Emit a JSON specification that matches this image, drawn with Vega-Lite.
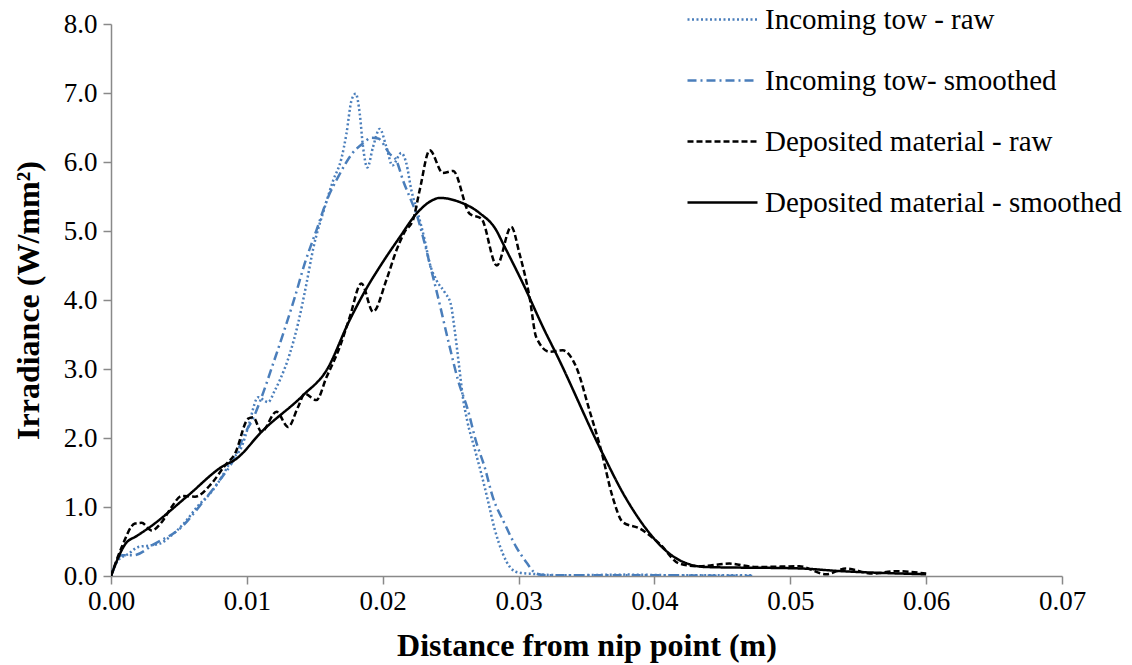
{
  "$schema": "https://vega.github.io/schema/vega-lite/v6.json",
  "width": 951,
  "height": 552,
  "autosize": {"type": "none"},
  "padding": {"left": 111, "top": 24, "right": 70, "bottom": 89},
  "background": "white",
  "config": {
    "font": "Liberation Serif",
    "view": {"stroke": null},
    "axis": {
      "grid": false,
      "domainColor": "#898989",
      "domainWidth": 1.5,
      "tickColor": "#898989",
      "tickWidth": 1.5,
      "tickSize": 8,
      "labelColor": "black",
      "labelFont": "Liberation Serif",
      "labelFontSize": 27,
      "labelFlush": false,
      "labelOverlap": false,
      "titleColor": "black",
      "titleFont": "Liberation Serif",
      "titleFontSize": 32,
      "titleFontWeight": "bold"
    },
    "legend": {
      "labelFont": "Liberation Serif",
      "labelFontSize": 29,
      "labelColor": "black",
      "labelLimit": 0
    }
  },
  "datasets": {
    "irradiance": [
      {"series": "Incoming tow - raw", "x": 0, "y": 0},
      {"series": "Incoming tow - raw", "x": 0.00054, "y": 0.23},
      {"series": "Incoming tow - raw", "x": 0.00127, "y": 0.32},
      {"series": "Incoming tow - raw", "x": 0.00201, "y": 0.42},
      {"series": "Incoming tow - raw", "x": 0.00274, "y": 0.44},
      {"series": "Incoming tow - raw", "x": 0.0036, "y": 0.47},
      {"series": "Incoming tow - raw", "x": 0.00446, "y": 0.59},
      {"series": "Incoming tow - raw", "x": 0.00544, "y": 0.78},
      {"series": "Incoming tow - raw", "x": 0.00642, "y": 1.02},
      {"series": "Incoming tow - raw", "x": 0.0074, "y": 1.22},
      {"series": "Incoming tow - raw", "x": 0.00814, "y": 1.43},
      {"series": "Incoming tow - raw", "x": 0.00887, "y": 1.68},
      {"series": "Incoming tow - raw", "x": 0.00961, "y": 1.87},
      {"series": "Incoming tow - raw", "x": 0.0101, "y": 2.16},
      {"series": "Incoming tow - raw", "x": 0.01083, "y": 2.59},
      {"series": "Incoming tow - raw", "x": 0.01157, "y": 2.52},
      {"series": "Incoming tow - raw", "x": 0.01206, "y": 2.69},
      {"series": "Incoming tow - raw", "x": 0.01243, "y": 2.84},
      {"series": "Incoming tow - raw", "x": 0.01316, "y": 3.22},
      {"series": "Incoming tow - raw", "x": 0.01377, "y": 3.66},
      {"series": "Incoming tow - raw", "x": 0.01439, "y": 4.24},
      {"series": "Incoming tow - raw", "x": 0.01488, "y": 4.74},
      {"series": "Incoming tow - raw", "x": 0.01574, "y": 5.35},
      {"series": "Incoming tow - raw", "x": 0.01635, "y": 5.73},
      {"series": "Incoming tow - raw", "x": 0.01696, "y": 6.05},
      {"series": "Incoming tow - raw", "x": 0.01733, "y": 6.41},
      {"series": "Incoming tow - raw", "x": 0.0177, "y": 6.89},
      {"series": "Incoming tow - raw", "x": 0.01801, "y": 6.99},
      {"series": "Incoming tow - raw", "x": 0.01831, "y": 6.7},
      {"series": "Incoming tow - raw", "x": 0.01855, "y": 6.22},
      {"series": "Incoming tow - raw", "x": 0.01887, "y": 5.92},
      {"series": "Incoming tow - raw", "x": 0.01929, "y": 6.22},
      {"series": "Incoming tow - raw", "x": 0.01978, "y": 6.48},
      {"series": "Incoming tow - raw", "x": 0.02027, "y": 6.22},
      {"series": "Incoming tow - raw", "x": 0.02071, "y": 5.95},
      {"series": "Incoming tow - raw", "x": 0.02137, "y": 6.13},
      {"series": "Incoming tow - raw", "x": 0.02174, "y": 5.98},
      {"series": "Incoming tow - raw", "x": 0.02211, "y": 5.59},
      {"series": "Incoming tow - raw", "x": 0.0226, "y": 5.25},
      {"series": "Incoming tow - raw", "x": 0.02309, "y": 4.87},
      {"series": "Incoming tow - raw", "x": 0.02346, "y": 4.53},
      {"series": "Incoming tow - raw", "x": 0.02395, "y": 4.29},
      {"series": "Incoming tow - raw", "x": 0.0246, "y": 4.1},
      {"series": "Incoming tow - raw", "x": 0.025, "y": 3.95},
      {"series": "Incoming tow - raw", "x": 0.0253, "y": 3.56},
      {"series": "Incoming tow - raw", "x": 0.02566, "y": 2.98},
      {"series": "Incoming tow - raw", "x": 0.0259, "y": 2.59},
      {"series": "Incoming tow - raw", "x": 0.02622, "y": 2.25},
      {"series": "Incoming tow - raw", "x": 0.0268, "y": 1.82},
      {"series": "Incoming tow - raw", "x": 0.02726, "y": 1.48},
      {"series": "Incoming tow - raw", "x": 0.0277, "y": 1.13},
      {"series": "Incoming tow - raw", "x": 0.02824, "y": 0.68},
      {"series": "Incoming tow - raw", "x": 0.02885, "y": 0.32},
      {"series": "Incoming tow - raw", "x": 0.0294, "y": 0.12},
      {"series": "Incoming tow - raw", "x": 0.03, "y": 0.05},
      {"series": "Incoming tow - raw", "x": 0.0311, "y": 0.03},
      {"series": "Incoming tow - raw", "x": 0.0335, "y": 0.01},
      {"series": "Incoming tow - raw", "x": 0.038, "y": 0.02},
      {"series": "Incoming tow - raw", "x": 0.042, "y": 0.01},
      {"series": "Incoming tow - raw", "x": 0.0472, "y": 0.01},

      {"series": "Incoming tow- smoothed", "x": 0, "y": 0},
      {"series": "Incoming tow- smoothed", "x": 0.00079, "y": 0.3},
      {"series": "Incoming tow- smoothed", "x": 0.00164, "y": 0.3},
      {"series": "Incoming tow- smoothed", "x": 0.00324, "y": 0.47},
      {"series": "Incoming tow- smoothed", "x": 0.0052, "y": 0.71},
      {"series": "Incoming tow- smoothed", "x": 0.00667, "y": 1.05},
      {"series": "Incoming tow- smoothed", "x": 0.00789, "y": 1.36},
      {"series": "Incoming tow- smoothed", "x": 0.00912, "y": 1.72},
      {"series": "Incoming tow- smoothed", "x": 0.00985, "y": 2.06},
      {"series": "Incoming tow- smoothed", "x": 0.0105, "y": 2.3},
      {"series": "Incoming tow- smoothed", "x": 0.01108, "y": 2.59},
      {"series": "Incoming tow- smoothed", "x": 0.01194, "y": 3.08},
      {"series": "Incoming tow- smoothed", "x": 0.01267, "y": 3.51},
      {"series": "Incoming tow- smoothed", "x": 0.01353, "y": 4.04},
      {"series": "Incoming tow- smoothed", "x": 0.01426, "y": 4.53},
      {"series": "Incoming tow- smoothed", "x": 0.01512, "y": 5.01},
      {"series": "Incoming tow- smoothed", "x": 0.01598, "y": 5.49},
      {"series": "Incoming tow- smoothed", "x": 0.01671, "y": 5.78},
      {"series": "Incoming tow- smoothed", "x": 0.01782, "y": 6.14},
      {"series": "Incoming tow- smoothed", "x": 0.01855, "y": 6.27},
      {"series": "Incoming tow- smoothed", "x": 0.01917, "y": 6.35},
      {"series": "Incoming tow- smoothed", "x": 0.01966, "y": 6.34},
      {"series": "Incoming tow- smoothed", "x": 0.02051, "y": 6.12},
      {"series": "Incoming tow- smoothed", "x": 0.02101, "y": 6.02},
      {"series": "Incoming tow- smoothed", "x": 0.0215, "y": 5.73},
      {"series": "Incoming tow- smoothed", "x": 0.02199, "y": 5.49},
      {"series": "Incoming tow- smoothed", "x": 0.02248, "y": 5.25},
      {"series": "Incoming tow- smoothed", "x": 0.02309, "y": 4.82},
      {"series": "Incoming tow- smoothed", "x": 0.02358, "y": 4.43},
      {"series": "Incoming tow- smoothed", "x": 0.02395, "y": 4.14},
      {"series": "Incoming tow- smoothed", "x": 0.02493, "y": 3.32},
      {"series": "Incoming tow- smoothed", "x": 0.02554, "y": 2.84},
      {"series": "Incoming tow- smoothed", "x": 0.02628, "y": 2.4},
      {"series": "Incoming tow- smoothed", "x": 0.02684, "y": 1.97},
      {"series": "Incoming tow- smoothed", "x": 0.0275, "y": 1.58},
      {"series": "Incoming tow- smoothed", "x": 0.02811, "y": 1.14},
      {"series": "Incoming tow- smoothed", "x": 0.02897, "y": 0.76},
      {"series": "Incoming tow- smoothed", "x": 0.02983, "y": 0.42},
      {"series": "Incoming tow- smoothed", "x": 0.03057, "y": 0.2},
      {"series": "Incoming tow- smoothed", "x": 0.0313, "y": 0.035},
      {"series": "Incoming tow- smoothed", "x": 0.032, "y": 0.01},
      {"series": "Incoming tow- smoothed", "x": 0.04, "y": 0.01},
      {"series": "Incoming tow- smoothed", "x": 0.0472, "y": 0.0},

      {"series": "Deposited material - raw", "x": 0, "y": 0},
      {"series": "Deposited material - raw", "x": 0.00079, "y": 0.42},
      {"series": "Deposited material - raw", "x": 0.00176, "y": 0.76},
      {"series": "Deposited material - raw", "x": 0.00226, "y": 0.77},
      {"series": "Deposited material - raw", "x": 0.003, "y": 0.66},
      {"series": "Deposited material - raw", "x": 0.00373, "y": 0.78},
      {"series": "Deposited material - raw", "x": 0.00446, "y": 1.0},
      {"series": "Deposited material - raw", "x": 0.0052, "y": 1.16},
      {"series": "Deposited material - raw", "x": 0.00618, "y": 1.15},
      {"series": "Deposited material - raw", "x": 0.0074, "y": 1.34},
      {"series": "Deposited material - raw", "x": 0.00838, "y": 1.6},
      {"series": "Deposited material - raw", "x": 0.00912, "y": 1.77},
      {"series": "Deposited material - raw", "x": 0.0101, "y": 2.28},
      {"series": "Deposited material - raw", "x": 0.01046, "y": 2.3},
      {"series": "Deposited material - raw", "x": 0.01108, "y": 2.09},
      {"series": "Deposited material - raw", "x": 0.01218, "y": 2.38},
      {"series": "Deposited material - raw", "x": 0.01304, "y": 2.16},
      {"series": "Deposited material - raw", "x": 0.01377, "y": 2.45},
      {"series": "Deposited material - raw", "x": 0.01426, "y": 2.64},
      {"series": "Deposited material - raw", "x": 0.01512, "y": 2.55},
      {"series": "Deposited material - raw", "x": 0.01586, "y": 2.88},
      {"series": "Deposited material - raw", "x": 0.01684, "y": 3.32},
      {"series": "Deposited material - raw", "x": 0.01757, "y": 3.75},
      {"series": "Deposited material - raw", "x": 0.01843, "y": 4.24},
      {"series": "Deposited material - raw", "x": 0.01929, "y": 3.83},
      {"series": "Deposited material - raw", "x": 0.02027, "y": 4.29},
      {"series": "Deposited material - raw", "x": 0.02101, "y": 4.72},
      {"series": "Deposited material - raw", "x": 0.02162, "y": 4.99},
      {"series": "Deposited material - raw", "x": 0.02223, "y": 5.16},
      {"series": "Deposited material - raw", "x": 0.02272, "y": 5.59},
      {"series": "Deposited material - raw", "x": 0.02346, "y": 6.17},
      {"series": "Deposited material - raw", "x": 0.02443, "y": 5.84},
      {"series": "Deposited material - raw", "x": 0.02518, "y": 5.87},
      {"series": "Deposited material - raw", "x": 0.0264, "y": 5.25},
      {"series": "Deposited material - raw", "x": 0.02726, "y": 5.18},
      {"series": "Deposited material - raw", "x": 0.0284, "y": 4.5},
      {"series": "Deposited material - raw", "x": 0.02946, "y": 5.06},
      {"series": "Deposited material - raw", "x": 0.03007, "y": 4.67},
      {"series": "Deposited material - raw", "x": 0.03081, "y": 4.04},
      {"series": "Deposited material - raw", "x": 0.0313, "y": 3.46},
      {"series": "Deposited material - raw", "x": 0.03228, "y": 3.25},
      {"series": "Deposited material - raw", "x": 0.03326, "y": 3.27},
      {"series": "Deposited material - raw", "x": 0.03424, "y": 3.03},
      {"series": "Deposited material - raw", "x": 0.03522, "y": 2.4},
      {"series": "Deposited material - raw", "x": 0.03608, "y": 1.82},
      {"series": "Deposited material - raw", "x": 0.03693, "y": 1.14},
      {"series": "Deposited material - raw", "x": 0.03767, "y": 0.78},
      {"series": "Deposited material - raw", "x": 0.0389, "y": 0.69},
      {"series": "Deposited material - raw", "x": 0.04037, "y": 0.47},
      {"series": "Deposited material - raw", "x": 0.04184, "y": 0.18},
      {"series": "Deposited material - raw", "x": 0.04331, "y": 0.14},
      {"series": "Deposited material - raw", "x": 0.04551, "y": 0.18},
      {"series": "Deposited material - raw", "x": 0.04748, "y": 0.13},
      {"series": "Deposited material - raw", "x": 0.05066, "y": 0.14},
      {"series": "Deposited material - raw", "x": 0.05263, "y": 0.025},
      {"series": "Deposited material - raw", "x": 0.0541, "y": 0.107},
      {"series": "Deposited material - raw", "x": 0.05605, "y": 0.035},
      {"series": "Deposited material - raw", "x": 0.05777, "y": 0.07},
      {"series": "Deposited material - raw", "x": 0.06, "y": 0.035},

      {"series": "Deposited material - smoothed", "x": 0, "y": 0},
      {"series": "Deposited material - smoothed", "x": 0.00108, "y": 0.47},
      {"series": "Deposited material - smoothed", "x": 0.0019, "y": 0.58},
      {"series": "Deposited material - smoothed", "x": 0.00287, "y": 0.71},
      {"series": "Deposited material - smoothed", "x": 0.00569, "y": 1.17},
      {"series": "Deposited material - smoothed", "x": 0.00814, "y": 1.58},
      {"series": "Deposited material - smoothed", "x": 0.00924, "y": 1.7},
      {"series": "Deposited material - smoothed", "x": 0.01108, "y": 2.09},
      {"series": "Deposited material - smoothed", "x": 0.01414, "y": 2.62},
      {"series": "Deposited material - smoothed", "x": 0.01586, "y": 2.98},
      {"series": "Deposited material - smoothed", "x": 0.01757, "y": 3.71},
      {"series": "Deposited material - smoothed", "x": 0.0189, "y": 4.2},
      {"series": "Deposited material - smoothed", "x": 0.01978, "y": 4.48},
      {"series": "Deposited material - smoothed", "x": 0.02125, "y": 4.91},
      {"series": "Deposited material - smoothed", "x": 0.02248, "y": 5.25},
      {"series": "Deposited material - smoothed", "x": 0.0237, "y": 5.45},
      {"series": "Deposited material - smoothed", "x": 0.02419, "y": 5.48},
      {"series": "Deposited material - smoothed", "x": 0.02566, "y": 5.42},
      {"series": "Deposited material - smoothed", "x": 0.02713, "y": 5.26},
      {"series": "Deposited material - smoothed", "x": 0.02836, "y": 5.01},
      {"series": "Deposited material - smoothed", "x": 0.02885, "y": 4.82},
      {"series": "Deposited material - smoothed", "x": 0.03032, "y": 4.24},
      {"series": "Deposited material - smoothed", "x": 0.03191, "y": 3.56},
      {"series": "Deposited material - smoothed", "x": 0.03277, "y": 3.22},
      {"series": "Deposited material - smoothed", "x": 0.0362, "y": 1.77},
      {"series": "Deposited material - smoothed", "x": 0.03792, "y": 1.12},
      {"series": "Deposited material - smoothed", "x": 0.04184, "y": 0.23},
      {"series": "Deposited material - smoothed", "x": 0.0438, "y": 0.13},
      {"series": "Deposited material - smoothed", "x": 0.05066, "y": 0.11},
      {"series": "Deposited material - smoothed", "x": 0.0536, "y": 0.072},
      {"series": "Deposited material - smoothed", "x": 0.06, "y": 0.025}
    ]
  },
  "data": {"name": "irradiance"},
  "mark": {"type": "line", "interpolate": "monotone", "strokeWidth": 2.5, "clip": true},
  "encoding": {
    "x": {
      "field": "x",
      "type": "quantitative",
      "title": "Distance from nip point (m)",
      "scale": {"domain": [0, 0.07], "nice": false, "zero": true},
      "axis": {"values": [0, 0.01, 0.02, 0.03, 0.04, 0.05, 0.06, 0.07], "format": ".2f", "labelPadding": 4, "titlePadding": 16}
    },
    "y": {
      "field": "y",
      "type": "quantitative",
      "title": "Irradiance (W/mm²)",
      "scale": {"domain": [0, 8], "nice": false},
      "axis": {"values": [0, 1, 2, 3, 4, 5, 6, 7, 8], "format": ".1f", "labelPadding": 6, "titlePadding": 18}
    },
    "color": {
      "field": "series",
      "type": "nominal",
      "title": null,
      "scale": {
        "domain": ["Incoming tow - raw", "Incoming tow- smoothed", "Deposited material - raw", "Deposited material - smoothed"],
        "range": ["#4A7EBB", "#4A7EBB", "#000000", "#000000"]
      },
      "legend": {
        "orient": "none",
        "legendX": 575,
        "legendY": -41,
        "symbolType": "stroke",
        "symbolSize": 4900,
        "symbolStrokeWidth": 2.5,
        "rowPadding": 9,
        "labelOffset": 6
      }
    },
    "strokeDash": {
      "field": "series",
      "type": "nominal",
      "title": null,
      "scale": {
        "domain": ["Incoming tow - raw", "Incoming tow- smoothed", "Deposited material - raw", "Deposited material - smoothed"],
        "range": [[2, 2.5], [9, 4, 2, 4], [6, 3], [1, 0]]
      }
    }
  }
}
